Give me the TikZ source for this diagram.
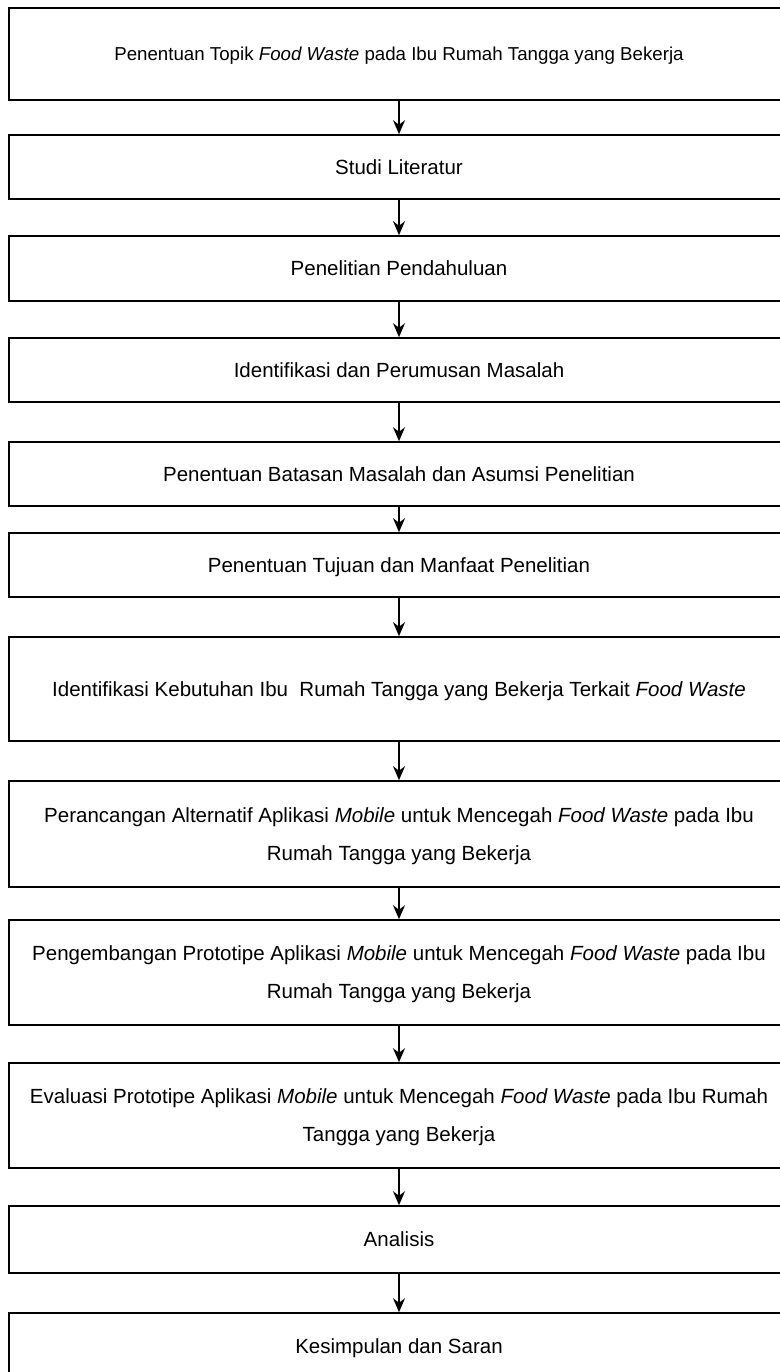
\documentclass[tikz,border=0pt]{standalone}
\usepackage{fontspec}
\setmainfont{Liberation Sans}
\usetikzlibrary{arrows.meta}
\tikzset{
  stepbox/.style={draw,line width=1.6pt,minimum width=780pt,inner sep=0pt,align=center,
    text depth=0pt,font=\fontsize{20.5}{38}\selectfont},
  flow/.style={-{Stealth[length=14pt,width=12pt]},line width=1.4pt},
}

\begin{document}
\begin{tikzpicture}[x=1pt,y=-1pt]
\useasboundingbox (0,0) rectangle (779,1372);
\node[stepbox,minimum height=92pt,font=\fontsize{18.7}{38}\selectfont] (topik) at (399,54) {Penentuan Topik \textit{Food Waste} pada Ibu Rumah Tangga yang Bekerja};
\node[stepbox,minimum height=64pt] (studi) at (399,167) {Studi Literatur};
\node[stepbox,minimum height=65pt] (pendahuluan) at (399,268.5) {Penelitian Pendahuluan};
\node[stepbox,minimum height=64pt] (rumusan) at (399,370) {Identifikasi dan Perumusan Masalah};
\node[stepbox,minimum height=64pt] (batasan) at (399,474) {Penentuan Batasan Masalah dan Asumsi Penelitian};
\node[stepbox,minimum height=64pt] (tujuan) at (399,565) {Penentuan Tujuan dan Manfaat Penelitian};
\node[stepbox,minimum height=104pt] (kebutuhan) at (399,689) {Identifikasi Kebutuhan Ibu~ Rumah Tangga yang Bekerja Terkait \textit{Food Waste}};
\node[stepbox,minimum height=106pt] (rancang) at (399,834) {Perancangan Alternatif Aplikasi \textit{Mobile} untuk Mencegah \textit{Food Waste} pada Ibu\\Rumah Tangga yang Bekerja};
\node[stepbox,minimum height=105pt] (prototipe) at (399,972.5) {Pengembangan Prototipe Aplikasi \textit{Mobile} untuk Mencegah \textit{Food Waste} pada Ibu\\Rumah Tangga yang Bekerja};
\node[stepbox,minimum height=105pt] (evaluasi) at (399,1115.5) {Evaluasi Prototipe Aplikasi \textit{Mobile} untuk Mencegah \textit{Food Waste} pada Ibu Rumah\\Tangga yang Bekerja};
\node[stepbox,minimum height=67pt] (analisis) at (399,1239.5) {Analisis};
\node[stepbox,minimum height=67pt] (simpulan) at (399,1346.5) {Kesimpulan dan Saran};
\foreach \a/\b in {topik/studi,studi/pendahuluan,pendahuluan/rumusan,rumusan/batasan,
  batasan/tujuan,tujuan/kebutuhan,kebutuhan/rancang,rancang/prototipe,prototipe/evaluasi,
  evaluasi/analisis,analisis/simpulan}
  \draw[flow] (\a) -- (\b);
\end{tikzpicture}
\end{document}
